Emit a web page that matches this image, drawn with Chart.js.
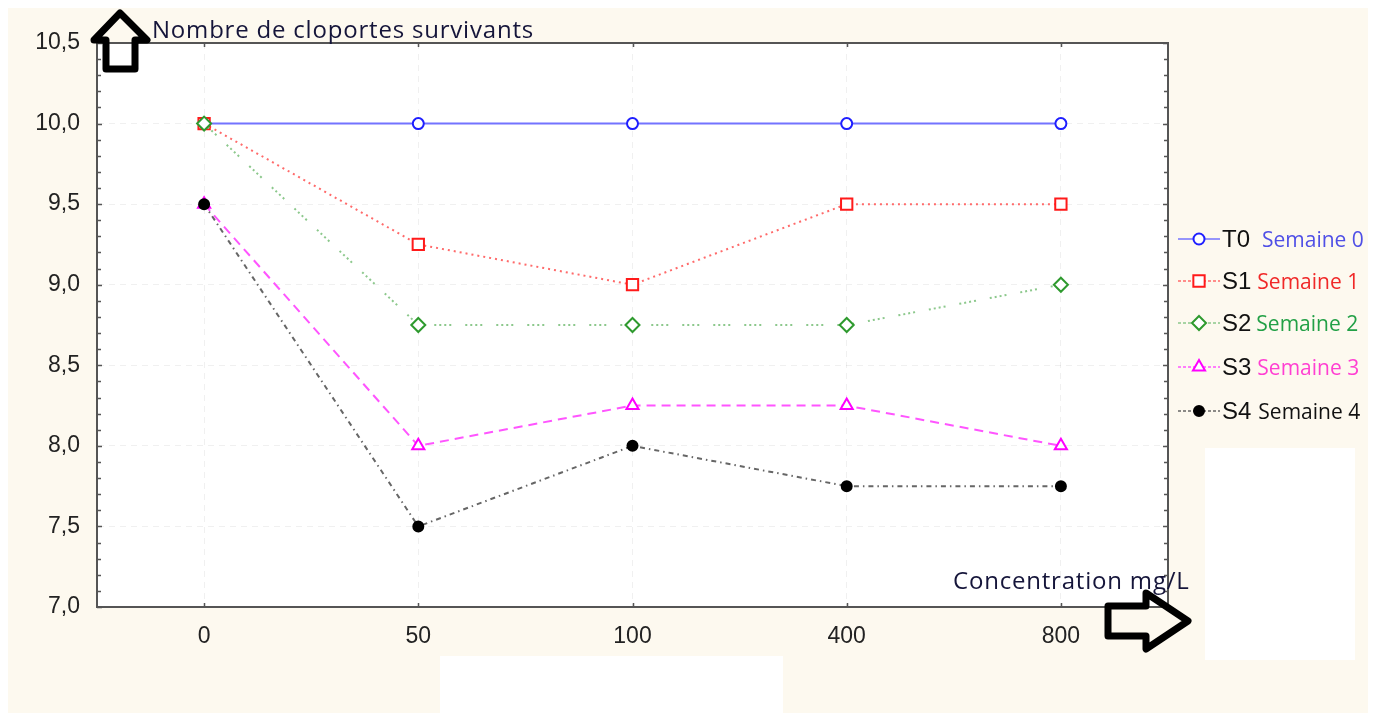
<!DOCTYPE html>
<html>
<head>
<meta charset="utf-8">
<style>
html, body { margin: 0; padding: 0; background: #fff; }
#wrap { position: relative; width: 1376px; height: 719px; overflow: hidden; }
#wrap canvas { position: absolute; left: 0; top: 0; }
.txt { position: absolute; white-space: nowrap; line-height: 1; }
.txt span { line-height: 1; }
</style>
<script src="https://cdn.jsdelivr.net/npm/chart.js"></script>
</head>
<body>
<div id="wrap"><canvas id="survieChart" width="1376" height="719"></canvas></div>
<script>
// data
const concentrations = ['0', '50', '100', '400', '800'];
const yTicks = [7.0, 7.5, 8.0, 8.5, 9.0, 9.5, 10.0, 10.5];
const seriesCodes = ['T0', 'S1', 'S2', 'S3', 'S4'];
const seriesNames = ['Semaine 0', 'Semaine 1', 'Semaine 2', 'Semaine 3', 'Semaine 4'];
const t0 = [10, 10, 10, 10, 10];
const s1 = [10, 9.25, 9, 9.5, 9.5];
const s2 = [10, 8.75, 8.75, 8.75, 9];
const s3 = [9.5, 8, 8.25, 8.25, 8];
const s4 = [9.5, 7.5, 8, 7.75, 7.75];
const yTitle = 'Nombre de cloportes survivants';
const xTitle = 'Concentration mg/L';

const series = [t0, s1, s2, s3, s4];

// look of each series
const styles = [
    { line: '#7373ff', point: '#1f1fff', dash: [], shape: 'circle', r: 5.5, fill: '#ffffff', text: '#4f4fe6', order: 5, gap: 12 },
    { line: '#ff6a6a', point: '#ff1a1a', dash: [2, 4], shape: 'rect', r: 8, fill: '#ffffff', text: '#f02828', order: 3, gap: 6 },
    { line: '#8cc88c', point: '#2e9a2e', dash: [2, 3, 2, 3, 2, 3, 2, 14], shape: 'rectRot', r: 7, fill: '#ffffff', text: '#22a046', order: 1, gap: 5 },
    { line: '#ff55ff', point: '#ff00ff', dash: [9, 6], shape: 'triangle', r: 7, fill: '#ffffff', text: '#ff3fd2', order: 4, gap: 6 },
    { line: '#666666', point: '#000000', dash: [5, 4, 1.5, 4], shape: 'circle', r: 5, fill: '#000000', text: '#111111', order: 2, gap: 7 },
];

const legendRows = [239, 281, 323, 367, 411];
const cream = '#fdf9ef';

function fmt(v) {
    return v.toFixed(1).replace('.', ',');
}

function marker(ctx, st, x, y) {
    ctx.save();
    ctx.setLineDash([]);
    ctx.lineWidth = 2;
    ctx.strokeStyle = st.point;
    ctx.fillStyle = st.fill;
    ctx.beginPath();
    const r = st.r;
    if (st.shape === 'circle') {
        ctx.arc(x, y, r, 0, Math.PI * 2);
    } else if (st.shape === 'rect') {
        const h = r * Math.SQRT1_2;
        ctx.rect(x - h, y - h, h * 2, h * 2);
    } else if (st.shape === 'rectRot') {
        ctx.moveTo(x, y - r); ctx.lineTo(x + r, y); ctx.lineTo(x, y + r); ctx.lineTo(x - r, y); ctx.closePath();
    } else if (st.shape === 'triangle') {
        for (let i = 0; i < 3; i++) {
            const a = i * Math.PI * 2 / 3;
            const px = x + Math.sin(a) * r, py = y - Math.cos(a) * r;
            if (i === 0) ctx.moveTo(px, py); else ctx.lineTo(px, py);
        }
        ctx.closePath();
    }
    ctx.fill();
    ctx.stroke();
    ctx.restore();
}

function outline(ctx, pts) {
    ctx.beginPath();
    pts.forEach((p, i) => i ? ctx.lineTo(p[0], p[1]) : ctx.moveTo(p[0], p[1]));
    ctx.closePath();
    ctx.stroke();
}

const decor = {
    id: 'decor',
    beforeDraw(chart) {
        const { ctx, chartArea: a, width, height } = chart;
        ctx.save();
        ctx.fillStyle = '#ffffff';
        ctx.fillRect(0, 0, width, height);
        ctx.fillStyle = cream;
        ctx.fillRect(8, 8, width - 16, height - 14);
        ctx.fillStyle = '#ffffff';
        ctx.fillRect(440, 656, 343, 63);
        ctx.fillRect(1205, 448, 150, 212);
        ctx.fillRect(a.left, a.top, a.right - a.left, a.bottom - a.top);
        ctx.restore();
    },
    afterDraw(chart) {
        const { ctx, chartArea: a, scales } = chart;
        const y = scales.y, x = scales.x;
        ctx.save();
        // top and right frame
        ctx.strokeStyle = '#555555';
        ctx.lineWidth = 2;
        ctx.beginPath();
        ctx.moveTo(a.left, a.top); ctx.lineTo(a.right, a.top); ctx.lineTo(a.right, a.bottom);
        ctx.stroke();
        // small inner ticks
        ctx.lineWidth = 1.5;
        ctx.beginPath();
        for (let i = 0; i <= 35; i++) {
            const py = Math.round(y.getPixelForValue(7 + i * 0.1)) + 0.5;
            const len = i % 5 === 0 ? 5 : 4;
            ctx.moveTo(a.left, py); ctx.lineTo(a.left + len, py);
            ctx.moveTo(a.right, py); ctx.lineTo(a.right - len, py);
        }
        concentrations.forEach((c, i) => {
            const px = Math.round(x.getPixelForValue(i)) + 0.5;
            ctx.moveTo(px, a.bottom); ctx.lineTo(px, a.bottom - 4);
            ctx.moveTo(px, a.top); ctx.lineTo(px, a.top + 4);
        });
        ctx.stroke();

        // legend symbols
        styles.forEach((st, i) => {
            const ry = legendRows[i];
            ctx.save();
            ctx.strokeStyle = st.line;
            ctx.lineWidth = 1.5;
            ctx.setLineDash(st.dash.length ? [3, 2] : []);
            ctx.beginPath();
            ctx.moveTo(1178, ry); ctx.lineTo(1220, ry);
            ctx.stroke();
            ctx.restore();
            marker(ctx, st, 1199, ry);
        });

        // arrows
        ctx.strokeStyle = '#000000';
        ctx.lineWidth = 7;
        ctx.lineJoin = 'round';
        outline(ctx, [[120, 13], [147, 40], [135, 40], [135, 69], [106, 69], [106, 40], [94, 40]]);
        outline(ctx, [[1146, 593], [1188, 621], [1146, 649], [1146, 636], [1108, 636], [1108, 606], [1146, 606]]);
        ctx.restore();
    }
};

const datasets = series.map((vals, i) => ({
    label: seriesCodes[i],
    data: vals,
    borderColor: styles[i].line,
    borderWidth: 2,
    borderDash: styles[i].dash,
    pointStyle: styles[i].shape,
    pointRadius: styles[i].r,
    pointBorderWidth: 2,
    pointBorderColor: styles[i].point,
    pointBackgroundColor: styles[i].fill,
    tension: 0,
    order: styles[i].order,
}));

const config = {
    type: 'line',
    data: { labels: concentrations, datasets: datasets },
    options: {
        responsive: false,
        animation: false,
        layout: { padding: { top: 43, right: 208, left: 0, bottom: 0 } },
        plugins: {
            legend: { display: false },
            tooltip: { enabled: false },
        },
        scales: {
            x: {
                offset: true,
                grid: { offset: false, color: 'rgba(0,0,0,0.06)', drawTicks: false },
                border: { color: '#555555', width: 2, dash: [6, 5] },
                ticks: {
                    padding: 16,
                    color: '#222222',
                    font: { family: 'Liberation Sans', size: 23 },
                },
                afterFit(scale) { scale.height = 112; },
            },
            y: {
                min: 7,
                max: 10.5,
                afterBuildTicks(scale) { scale.ticks = yTicks.map(v => ({ value: v })); },
                grid: { color: 'rgba(0,0,0,0.06)', drawTicks: false },
                border: { color: '#555555', width: 2, dash: [6, 5] },
                ticks: {
                    padding: 17,
                    color: '#222222',
                    font: { family: 'Liberation Sans', size: 23 },
                    callback: v => fmt(v),
                },
                afterFit(scale) { scale.width = 97; },
            },
        },
    },
    plugins: [decor],
};

const survieChart = new Chart(document.getElementById('survieChart'), config);

// real text labels on top of the canvas, placed by baseline
const wrap = document.getElementById('wrap');
const baseK = { 'Open Sans': 0.888, 'Liberation Sans': 0.8465 };

function addText(text, x, baseline, family, size, color, spacing) {
    const d = document.createElement('div');
    d.className = 'txt';
    d.textContent = text;
    d.style.left = x + 'px';
    d.style.top = (baseline - baseK[family] * size) + 'px';
    d.style.fontFamily = "'" + family + "'";
    d.style.fontSize = size + 'px';
    d.style.color = color;
    if (spacing) d.style.letterSpacing = spacing + 'px';
    wrap.appendChild(d);
    return d;
}

addText(yTitle, 152, 38, 'Open Sans', 24, '#15153a', 0.8);
addText(xTitle, 953, 589, 'Open Sans', 24, '#15153a', 0.8);

seriesCodes.forEach((code, i) => {
    const d = addText(code, 1222, legendRows[i] + 8, 'Liberation Sans', 24, '#111111');
    const n = document.createElement('span');
    n.textContent = seriesNames[i];
    n.style.fontFamily = "'Open Sans'";
    n.style.fontSize = '21px';
    n.style.color = styles[i].text;
    n.style.marginLeft = styles[i].gap + 'px';
    d.appendChild(n);
});
</script>
</body>
</html>
